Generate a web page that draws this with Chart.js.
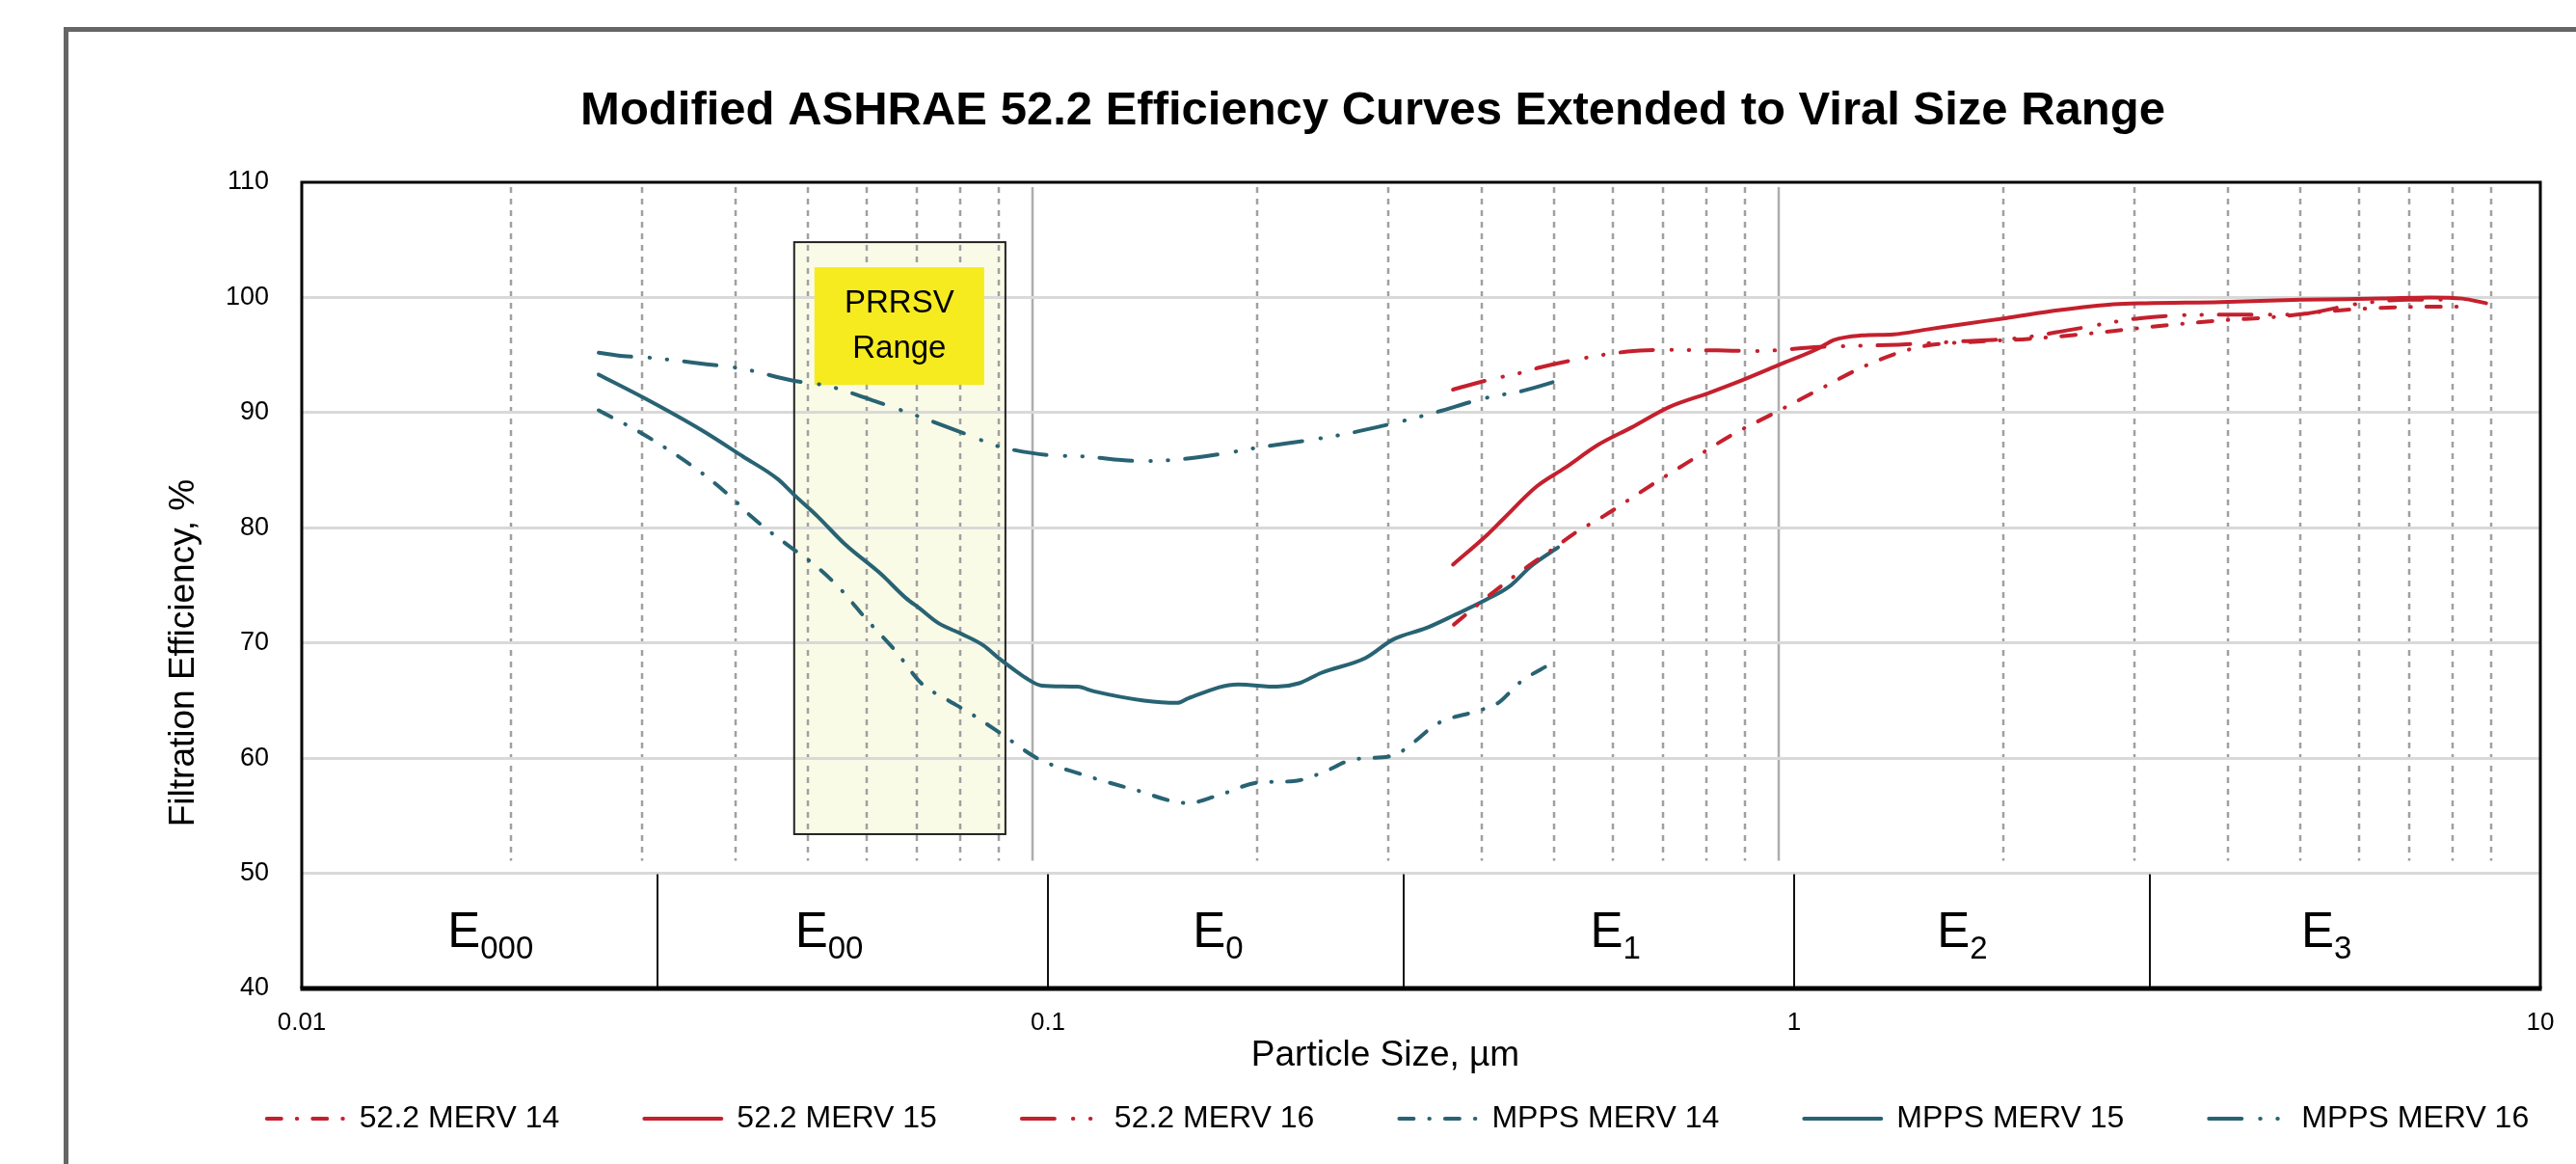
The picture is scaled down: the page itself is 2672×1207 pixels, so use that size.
<!DOCTYPE html>
<html>
<head>
<meta charset="utf-8">
<title>Modified ASHRAE 52.2 Efficiency Curves Extended to Viral Size Range</title>
<script src="https://cdn.jsdelivr.net/npm/chart.js"></script>
<style>
  html, body { margin: 0; padding: 0; background: #ffffff; width: 2672px; height: 1207px; overflow: hidden; position: relative; }
  #frame { position: absolute; left: 66px; top: 28px; width: 4000px; height: 4000px; border-left: 5px solid #666666; border-top: 5px solid #666666; }
  #c { position: absolute; left: 150px; top: 0; }
</style>
</head>
<body>
<div id="frame"></div>
<canvas id="c" width="2580" height="1207"></canvas>
<script>
// ---------------- data ----------------
const xTickValues = [0.01, 0.1, 1, 10];
const xTickLabels = ['0.01', '0.1', '1', '10'];
const yMin = 40, yMax = 110, yStep = 10;

// vertical grid overlay (its own log scale, offset as in the original figure)
const gridScaleMin = 0.01049, gridScaleMax = 10.49;
const gridMinorX = [0.02, 0.03, 0.04, 0.05, 0.06, 0.07, 0.08, 0.09,
                    0.2, 0.3, 0.4, 0.5, 0.6, 0.7, 0.8, 0.9,
                    2, 3, 4, 5, 6, 7, 8, 9];
const gridMajorX = [0.1, 1];

const bandEdges = [0.03, 0.1, 0.3, 1, 3];
const bandNames = ['000', '00', '0', '1', '2', '3'];
const bandLabelAt = [0.0179, 0.0509, 0.169, 0.576, 1.68, 5.17];

const prrsvSize = [0.0457, 0.0877];
const prrsvEff = [53.4, 104.8];
const prrsvText = ['PRRSV', 'Range'];

const seriesNames = ['52.2 MERV 14', '52.2 MERV 15', '52.2 MERV 16', 'MPPS MERV 14', 'MPPS MERV 15', 'MPPS MERV 16'];

const ashrae14X = [0.350, 0.388, 0.430, 0.476, 0.510, 0.555, 0.647, 0.717, 0.822, 0.943, 1.08, 1.23, 1.38, 1.50, 1.80, 2.06, 2.43, 2.96, 3.73, 4.40, 5.19, 6.13, 7.23, 8.05];
const ashrae14Y = [71.6, 74.0, 76.2, 78.2, 79.6, 81.0, 83.8, 85.6, 88.0, 90.0, 92.0, 93.9, 95.2, 95.8, 96.2, 96.4, 96.8, 97.4, 98.0, 98.3, 98.8, 99.1, 99.2, 99.2];

const ashrae15X = [0.349, 0.388, 0.408, 0.452, 0.493, 0.546, 0.605, 0.681, 0.768, 0.851, 0.959, 1.08, 1.13, 1.23, 1.36, 1.50, 1.69, 1.92, 2.27, 2.68, 2.96, 3.73, 4.78, 6.13, 7.11, 7.86, 8.46];
const ashrae15Y = [76.8, 79.4, 80.8, 83.6, 85.2, 87.2, 88.7, 90.5, 91.7, 92.8, 94.2, 95.6, 96.3, 96.7, 96.8, 97.2, 97.7, 98.2, 98.9, 99.4, 99.5, 99.6, 99.8, 99.9, 100.0, 99.9, 99.5];

const ashrae16X = [0.349, 0.390, 0.433, 0.455, 0.510, 0.598, 0.670, 0.790, 0.890, 1.08, 1.38, 1.69, 2.02, 2.35, 2.91, 3.61, 4.40, 4.86, 5.64, 6.66, 7.70];
const ashrae16Y = [92.0, 92.85, 93.5, 93.9, 94.6, 95.3, 95.45, 95.4, 95.35, 95.7, 95.9, 96.2, 96.5, 97.2, 98.2, 98.5, 98.5, 98.6, 99.4, 99.8, 99.8];

const mpps14X = [0.0250, 0.0289, 0.0343, 0.0380, 0.0400, 0.0450, 0.0482, 0.0525, 0.0572, 0.0623, 0.0679, 0.0727, 0.0791, 0.0862, 0.0973, 0.1096, 0.1300, 0.1542, 0.1680, 0.1925, 0.2134, 0.2324, 0.2574, 0.2901, 0.3053, 0.3327, 0.3813, 0.4013, 0.4296, 0.4720];
const mpps14Y = [90.2, 88.0, 84.8, 82.4, 81.0, 78.4, 77.0, 74.8, 72.0, 69.4, 66.4, 65.2, 63.8, 62.2, 59.9, 58.7, 57.3, 56.1, 56.7, 57.9, 58.0, 58.7, 59.9, 60.2, 61.1, 63.0, 64.2, 64.8, 66.6, 68.2];

const mpps15X = [0.0250, 0.0289, 0.0343, 0.0390, 0.0435, 0.0458, 0.0491, 0.0534, 0.0597, 0.0645, 0.0673, 0.0714, 0.0765, 0.0819, 0.0862, 0.0904, 0.0932, 0.0981, 0.1096, 0.1153, 0.1345, 0.1491, 0.1542, 0.1798, 0.2027, 0.2170, 0.2324, 0.2665, 0.2901, 0.3215, 0.3501, 0.3878, 0.4153, 0.4446, 0.4826];
const mpps15Y = [93.3, 91.2, 88.5, 86.2, 84.2, 82.8, 81.0, 78.6, 76.0, 73.9, 73.0, 71.7, 70.8, 69.8, 68.6, 67.6, 67.0, 66.3, 66.2, 65.8, 65.0, 64.8, 65.2, 66.4, 66.2, 66.5, 67.4, 68.7, 70.3, 71.3, 72.4, 73.8, 74.9, 76.7, 78.3];

const mpps16X = [0.0250, 0.0270, 0.0289, 0.0349, 0.0390, 0.0454, 0.0508, 0.0592, 0.0662, 0.0772, 0.0855, 0.0893, 0.1006, 0.1115, 0.1323, 0.1478, 0.1739, 0.1925, 0.2285, 0.2531, 0.3002, 0.3298, 0.3878, 0.4335, 0.4842];
const mpps16Y = [95.2, 94.9, 94.8, 94.2, 93.8, 92.8, 92.3, 90.9, 89.8, 88.2, 87.1, 86.8, 86.3, 86.2, 85.8, 85.9, 86.5, 87.0, 87.7, 88.2, 89.3, 90.0, 91.3, 91.9, 92.8];

// ---------------- styling ----------------
const FONT = "'Liberation Sans', Arial, Helvetica, sans-serif";
const RED = '#c4202d';
const TEAL = '#286373';
const DASH_DOT = [15, 16, 0.5, 16];
const DASH_DOT_DOT = [34, 19, 0.5, 17.5, 0.5, 17.5];

function pts(xs, ys) { return xs.map((v, i) => ({ x: v, y: ys[i] })); }
function line(label, xs, ys, color, dash, offset) {
  return {
    label, data: pts(xs, ys),
    borderColor: color, backgroundColor: color,
    borderWidth: 4, borderDash: dash, borderDashOffset: offset,
    borderCapStyle: 'round', borderJoinStyle: 'round',
    pointRadius: 0, pointHoverRadius: 0, fill: false,
    cubicInterpolationMode: 'monotone'
  };
}

const overlay = {
  id: 'overlay',
  afterLayout(chart) {
    // nudge legend row and title to where the original places them
    const lg = chart.legend;
    if (lg) { lg.top -= 21; lg.bottom -= 21; lg.left += 10; lg.right += 10; }
    const tb = chart.titleBlock;
    if (tb) { tb.left -= 16; tb.right -= 16; }
  },
  beforeDraw(chart) {
    const { ctx, chartArea: a, scales: { x, y, xg } } = chart;
    ctx.save();
    const bx0 = x.getPixelForValue(prrsvSize[0]), bx1 = x.getPixelForValue(prrsvSize[1]);
    const by0 = y.getPixelForValue(prrsvEff[1]), by1 = y.getPixelForValue(prrsvEff[0]);
    ctx.fillStyle = '#fafbe7';
    ctx.fillRect(bx0, by0, bx1 - bx0, by1 - by0);

    const gt = a.top + 5, gb = y.getPixelForValue(50) - 13;
    ctx.lineWidth = 2.5;
    ctx.strokeStyle = '#a0a0a0';
    ctx.setLineDash([6, 6]);
    gridMinorX.forEach(v => {
      const px = Math.round(xg.getPixelForValue(v));
      ctx.beginPath(); ctx.moveTo(px, gt); ctx.lineTo(px, gb); ctx.stroke();
    });
    ctx.setLineDash([]);
    ctx.strokeStyle = '#adadad';
    gridMajorX.forEach(v => {
      const px = Math.round(xg.getPixelForValue(v));
      ctx.beginPath(); ctx.moveTo(px, gt); ctx.lineTo(px, gb); ctx.stroke();
    });
    ctx.restore();
  },
  beforeDatasetsDraw(chart) {
    const { ctx, chartArea: a, scales: { x, y } } = chart;
    ctx.save();
    // PRRSV box border
    const bx0 = x.getPixelForValue(prrsvSize[0]), bx1 = x.getPixelForValue(prrsvSize[1]);
    const by0 = y.getPixelForValue(prrsvEff[1]), by1 = y.getPixelForValue(prrsvEff[0]);
    ctx.strokeStyle = '#222';
    ctx.lineWidth = 2;
    ctx.strokeRect(bx0, by0, bx1 - bx0, by1 - by0);
    // yellow label
    const lx = bx0 + 21, ly = by0 + 26, lw = (bx1 - bx0) - 43, lh = 122;
    ctx.fillStyle = '#f6eb1f';
    ctx.fillRect(lx, ly, lw, lh);
    ctx.fillStyle = '#000';
    ctx.font = '33px ' + FONT;
    ctx.textAlign = 'center';
    ctx.textBaseline = 'middle';
    ctx.fillText(prrsvText[0], lx + lw / 2, ly + 38);
    ctx.fillText(prrsvText[1], lx + lw / 2, ly + 85);

    // band row
    const y50 = y.getPixelForValue(50), y40 = y.getPixelForValue(40);
    ctx.strokeStyle = '#111';
    ctx.lineWidth = 2;
    bandEdges.forEach(v => {
      const px = Math.round(x.getPixelForValue(v));
      ctx.beginPath(); ctx.moveTo(px, y50 + 1); ctx.lineTo(px, y40); ctx.stroke();
    });
    ctx.textAlign = 'left';
    ctx.textBaseline = 'alphabetic';
    ctx.fillStyle = '#000';
    bandNames.forEach((n, i) => {
      const cx = x.getPixelForValue(bandLabelAt[i]);
      ctx.font = '51px ' + FONT;
      const wE = ctx.measureText('E').width;
      ctx.font = '33px ' + FONT;
      const wS = ctx.measureText(n).width;
      const sx = cx - (wE + wS) / 2;
      ctx.font = '51px ' + FONT;
      ctx.fillText('E', sx, y40 - 43);
      ctx.font = '33px ' + FONT;
      ctx.fillText(n, sx + wE, y40 - 31);
    });

    // frame
    ctx.strokeStyle = '#000';
    ctx.lineWidth = 3;
    ctx.beginPath();
    ctx.moveTo(a.left, a.bottom); ctx.lineTo(a.left, a.top); ctx.lineTo(a.right, a.top); ctx.lineTo(a.right, a.bottom);
    ctx.stroke();
    ctx.lineWidth = 5;
    ctx.beginPath(); ctx.moveTo(a.left - 1.5, a.bottom); ctx.lineTo(a.right + 1.5, a.bottom); ctx.stroke();

    // axis titles
    ctx.fillStyle = '#000';
    ctx.font = '37px ' + FONT;
    ctx.textAlign = 'center';
    ctx.textBaseline = 'middle';
    ctx.fillText('Particle Size, µm', 1437 - 150, 1095);
    ctx.translate(41, 677);
    ctx.rotate(-Math.PI / 2);
    ctx.fillText('Filtration Efficiency, %', 0, 0);
    ctx.restore();
  }
};

new Chart(document.getElementById('c'), {
  type: 'line',
  data: {
    datasets: [
      line(seriesNames[0], ashrae14X, ashrae14Y, RED, DASH_DOT, 0),
      line(seriesNames[1], ashrae15X, ashrae15Y, RED, [], 0),
      line(seriesNames[2], ashrae16X, ashrae16Y, RED, DASH_DOT_DOT, 0),
      line(seriesNames[3], mpps14X, mpps14Y, TEAL, DASH_DOT, 0),
      line(seriesNames[4], mpps15X, mpps15Y, TEAL, [], 0),
      line(seriesNames[5], mpps16X, mpps16Y, TEAL, DASH_DOT_DOT, 0)
    ]
  },
  options: {
    responsive: false,
    animation: false,
    devicePixelRatio: 1,
    layout: { padding: { left: 0, right: 0, top: 0, bottom: 0 } },
    plugins: {
      title: {
        display: true,
        text: 'Modified ASHRAE 52.2 Efficiency Curves Extended to Viral Size Range',
        color: '#000',
        font: { family: FONT, size: 49, weight: 'bold' },
        padding: { top: 86, bottom: 44.2 }
      },
      legend: {
        position: 'bottom',
        labels: {
          usePointStyle: true, pointStyle: 'line', pointStyleWidth: 80,
          padding: 88, color: '#000',
          font: { family: FONT, size: 32 },
          generateLabels: chart => {
            const items = Chart.defaults.plugins.legend.labels.generateLabels(chart);
            items.forEach(it => {
              const ds = chart.data.datasets[it.datasetIndex];
              it.lineDash = ds.borderDash;
              it.lineDashOffset = ds.borderDashOffset;
              it.lineWidth = ds.borderWidth;
              it.lineCap = ds.borderCapStyle;
              it.strokeStyle = ds.borderColor;
            });
            return items;
          }
        }
      },
      tooltip: { enabled: false }
    },
    scales: {
      x: {
        type: 'logarithmic', min: xTickValues[0], max: xTickValues[xTickValues.length - 1],
        afterBuildTicks: s => { s.ticks = xTickValues.map(v => ({ value: v })); },
        afterFit: s => { s.height = 52; },
        grid: { display: false, drawTicks: false },
        border: { display: false },
        ticks: {
          padding: 20, color: '#000', autoSkip: false, maxRotation: 0,
          font: { family: FONT, size: 26 },
          callback: (v, i) => xTickLabels[i]
        }
      },
      xg: {
        type: 'logarithmic', display: false, min: gridScaleMin, max: gridScaleMax
      },
      y: {
        min: yMin, max: yMax,
        afterFit: s => { s.width = 163; },
        grid: {
          drawTicks: false, lineWidth: 3,
          color: c => (c.tick && (c.tick.value === yMin || c.tick.value === yMax)) ? 'rgba(0,0,0,0)' : '#d9d9d9'
        },
        border: { display: false },
        ticks: { stepSize: yStep, padding: 34, color: '#000', font: { family: FONT, size: 27 } }
      },
      yR: {
        type: 'linear', position: 'right', min: 0, max: 1,
        afterFit: s => { s.width = 95; },
        grid: { display: false, drawTicks: false },
        border: { display: false },
        ticks: { display: false }
      }
    }
  },
  plugins: [overlay]
});
</script>
</body>
</html>
